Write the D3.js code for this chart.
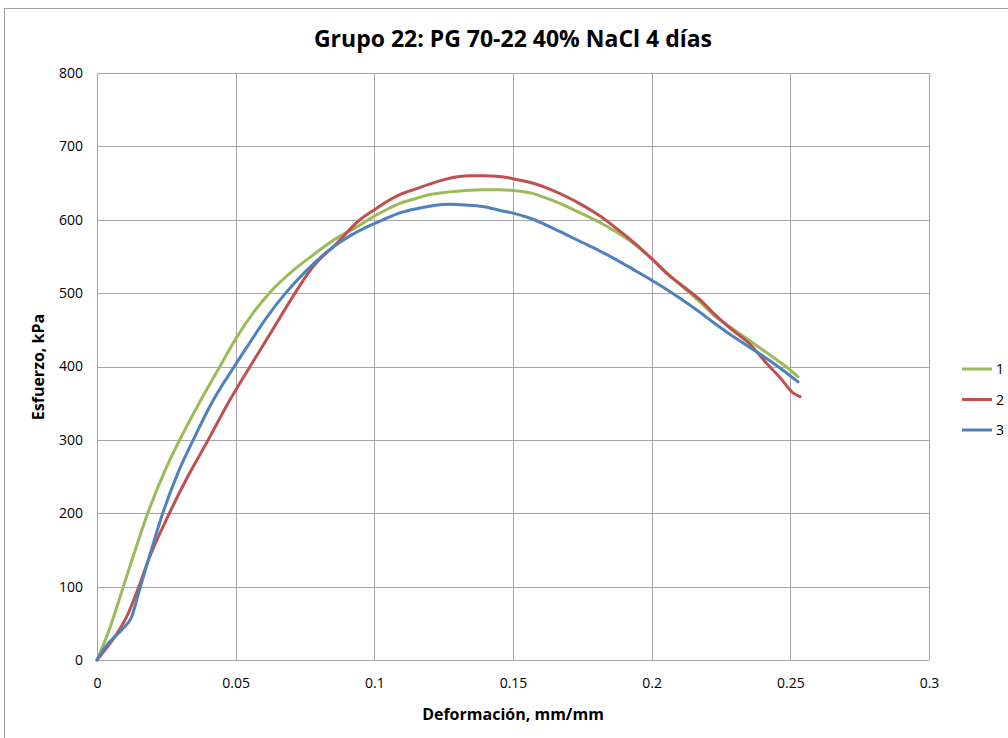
<!DOCTYPE html>
<html><head><meta charset="utf-8">
<script src="https://cdn.jsdelivr.net/npm/d3@7"></script>
<style>body{margin:0;background:#fff}svg{display:block}</style>
</head><body><svg id="c" width="1008" height="738"></svg>
<script>
const title = "Grupo 22: PG 70-22 40% NaCl 4 días";
const xTitle = "Deformación, mm/mm";
const yTitle = "Esfuerzo, kPa";
const xTicks = [0, 0.05, 0.1, 0.15, 0.2, 0.25, 0.3];
const xTickLabels = ["0", "0.05", "0.1", "0.15", "0.2", "0.25", "0.3"];
const yTicks = [0, 100, 200, 300, 400, 500, 600, 700, 800];
const seriesNames = ["1", "2", "3"];
const seriesColors = ["#9BBB59", "#C0504D", "#4F81BD"];

const s1x = [0, 0.0041, 0.0095, 0.0131, 0.0181, 0.0245, 0.0305, 0.0371, 0.044, 0.0504, 0.0565, 0.0626, 0.0714, 0.079, 0.0852, 0.0936, 0.0996, 0.105, 0.109, 0.115, 0.121, 0.127, 0.133, 0.139, 0.145, 0.150, 0.157, 0.163, 0.1695, 0.175, 0.181, 0.187, 0.193, 0.200, 0.2054, 0.2114, 0.2174, 0.223, 0.229, 0.235, 0.241, 0.247, 0.2528];
const s1y = [0, 38, 100, 142, 198, 258, 305, 352, 398, 440, 474, 502, 533, 555, 572, 590, 604, 615, 622, 629, 635, 638, 640, 641, 641, 640, 636, 628, 618, 608, 597, 584, 569, 547, 528, 508, 488, 468, 452, 436, 420, 404, 386];

const s2x = [0, 0.0029, 0.0065, 0.0107, 0.0149, 0.0185, 0.0261, 0.0323, 0.0401, 0.0468, 0.0552, 0.0617, 0.0714, 0.0761, 0.080, 0.0852, 0.0948, 0.1002, 0.105, 0.109, 0.115, 0.121, 0.1255, 0.130, 0.135, 0.139, 0.145, 0.150, 0.157, 0.163, 0.1695, 0.175, 0.181, 0.187, 0.193, 0.200, 0.2054, 0.2114, 0.2174, 0.223, 0.229, 0.235, 0.2415, 0.2465, 0.251, 0.2535];
const s2y = [0, 14, 32, 59, 98, 136, 200, 247, 300, 347, 400, 440, 500, 527, 545, 563, 600, 614, 626, 634, 642, 650, 655, 658.5, 660, 660, 659, 656, 650, 642, 631, 620, 606, 589, 571, 547, 527, 509, 491, 470, 450, 432, 404, 384, 364, 359];

const s3x = [0, 0.0041, 0.0089, 0.0125, 0.0155, 0.0185, 0.0237, 0.0293, 0.0347, 0.0413, 0.0495, 0.0552, 0.0612, 0.068, 0.0756, 0.0852, 0.0912, 0.0972, 0.1032, 0.109, 0.1153, 0.121, 0.1273, 0.133, 0.139, 0.145, 0.150, 0.157, 0.163, 0.169, 0.175, 0.181, 0.187, 0.193, 0.1994, 0.205, 0.2114, 0.2174, 0.223, 0.229, 0.235, 0.241, 0.247, 0.2528];
const s3y = [0, 23, 41, 59, 98, 136, 200, 256, 300, 350, 400, 433, 467, 500, 531, 563, 578, 590, 600, 609, 615, 619, 621, 620, 618, 613, 609, 601, 591, 580, 569, 558, 546, 533, 519, 506, 490, 474, 458, 442, 427, 412, 396, 379];

const series = [[s1x, s1y], [s2x, s2y], [s3x, s3y]];

const svg = d3.select("#c");
const L = 97, R = 929, T = 73, B = 660;
const x = d3.scaleLinear().domain([0, 0.3]).range([L, R]);
const y = d3.scaleLinear().domain([0, 800]).range([B, T]);

// outer chart border
svg.append("rect").attr("x", 4.5).attr("y", 8.5).attr("width", 1100).attr("height", 800)
  .attr("fill", "none").attr("stroke", "#a0a0a0").attr("stroke-width", 1);

// gridlines
const gridColor = "#a6a6a6";
svg.append("g").selectAll("line").data(yTicks).join("line")
  .attr("x1", L).attr("x2", R).attr("y1", d => Math.round(y(d)) + 0.5).attr("y2", d => Math.round(y(d)) + 0.5)
  .attr("stroke", gridColor).attr("stroke-width", 1);
svg.append("g").selectAll("line").data(xTicks).join("line")
  .attr("y1", T).attr("y2", B).attr("x1", d => Math.round(x(d)) + 0.5).attr("x2", d => Math.round(x(d)) + 0.5)
  .attr("stroke", gridColor).attr("stroke-width", 1);

// axes
const font = "'Open Sans', 'Noto Sans', sans-serif";
const xAxis = d3.axisBottom(x).tickValues(xTicks).tickFormat((d, i) => xTickLabels[i]).tickSize(0).tickPadding(18);
const gx = svg.append("g").attr("transform", `translate(0,${B})`).call(xAxis);
gx.select(".domain").attr("stroke", gridColor);
gx.selectAll("text").attr("font-family", font).attr("font-size", 14).attr("fill", "#000");
const yAxis = d3.axisLeft(y).tickValues(yTicks).tickFormat(d3.format("d")).tickSize(0).tickPadding(14);
const gy = svg.append("g").attr("transform", `translate(${L},0)`).call(yAxis);
gy.select(".domain").attr("stroke", gridColor);
gy.selectAll("text").attr("font-family", font).attr("font-size", 14).attr("fill", "#000");

// lines
const line = d3.line().x(d => x(d[0])).y(d => y(d[1])).curve(d3.curveMonotoneX);
series.forEach((s, i) => {
  const pts = s[0].map((v, j) => [v, s[1][j]]);
  svg.append("path").datum(pts).attr("d", line).attr("fill", "none")
    .attr("stroke", seriesColors[i]).attr("stroke-width", 3).attr("stroke-linejoin", "round").attr("stroke-linecap", "round");
});

// titles
svg.append("text").attr("x", 513).attr("y", 47).attr("text-anchor", "middle")
  .attr("font-family", font).attr("font-weight", "bold").attr("font-size", 23).text(title);
svg.append("text").attr("x", 513).attr("y", 720).attr("text-anchor", "middle")
  .attr("font-family", font).attr("font-weight", "bold").attr("font-size", 16).text(xTitle);
svg.append("text").attr("transform", "translate(44,367) rotate(-90)").attr("text-anchor", "middle")
  .attr("font-family", font).attr("font-weight", "bold").attr("font-size", 16).text(yTitle);

// legend
const lg = svg.append("g");
seriesNames.forEach((n, i) => {
  const ly = 369 + i * 30.5;
  lg.append("line").attr("x1", 962).attr("x2", 992).attr("y1", ly).attr("y2", ly)
    .attr("stroke", seriesColors[i]).attr("stroke-width", 3);
  lg.append("text").attr("x", 996).attr("y", ly + 5).attr("font-family", font).attr("font-size", 14).text(n);
});
</script></body></html>
